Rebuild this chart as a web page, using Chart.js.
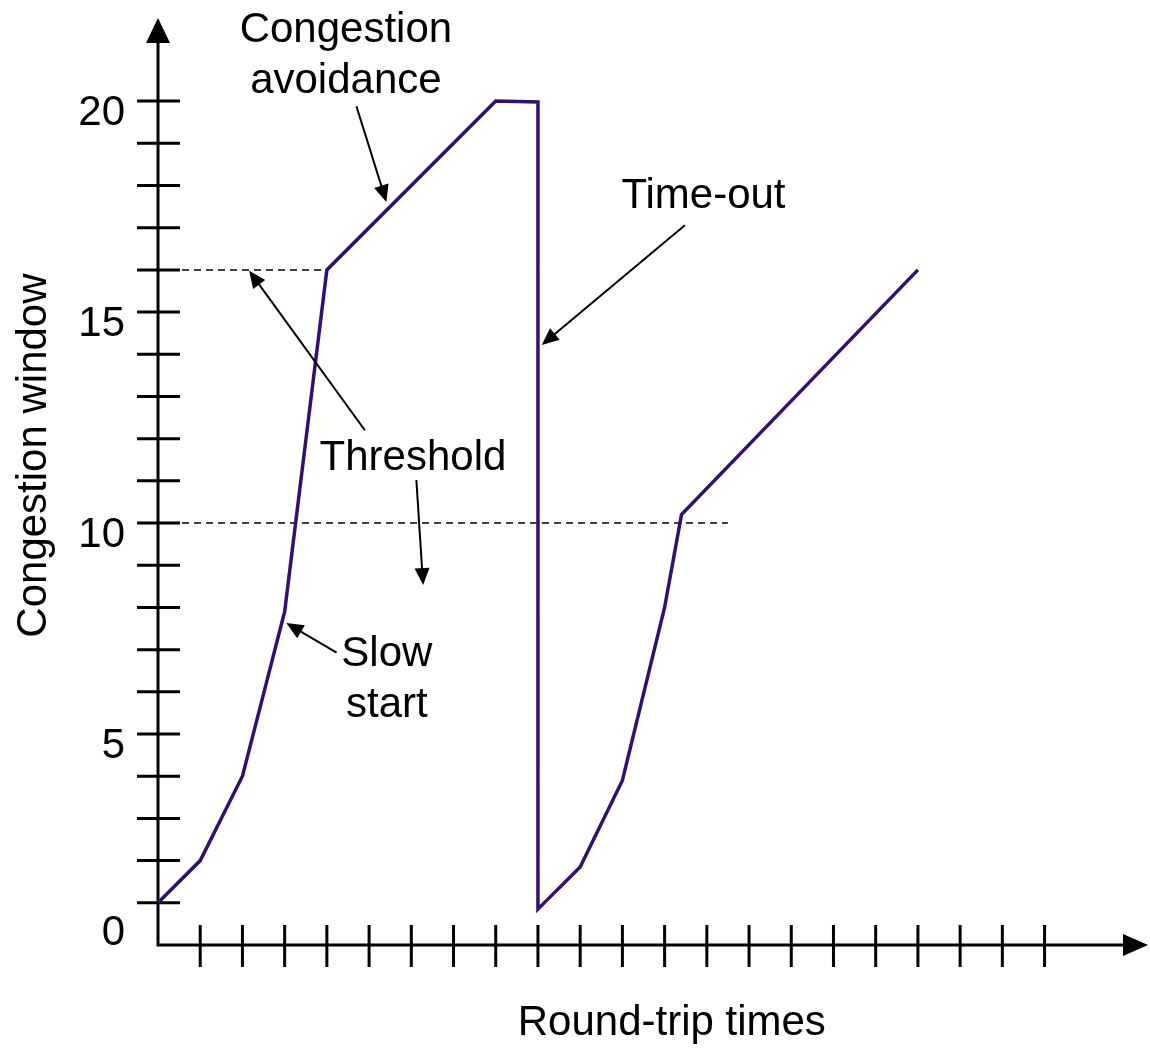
<!DOCTYPE html>
<html lang="en">
<head>
    <meta charset="UTF-8">
    <title>Congestion window</title>
    <script src="https://cdn.jsdelivr.net/npm/chart.js"></script>
    <style>
        body { margin: 0; background: #fff; }
        #wrap { width: 1150px; height: 1048px; }
    </style>
</head>
<body>
    <div id="wrap"><canvas id="cwChart"></canvas></div>

    <script>
        // data
        const roundTrips = [0, 1, 2, 3, 4, 8, 9, 9, 10, 11, 12, 12.4, 18];
        const cwnd = [1, 2, 4, 7.9, 16, 20, 19.98, 0.85, 1.85, 3.9, 8, 10.2, 16];
        const threshold1X = [0, 4];
        const threshold1Y = [16, 16];
        const threshold2X = [0, 13.5];
        const threshold2Y = [10, 10];
        const xTickValues = [1, 2, 3, 4, 5, 6, 7, 8, 9, 10, 11, 12, 13, 14, 15, 16, 17, 18, 19, 20, 21];
        const yTickValues = [1, 2, 3, 4, 5, 6, 7, 8, 9, 10, 11, 12, 13, 14, 15, 16, 17, 18, 19, 20];
        const yTickLabels = [0, 5, 10, 15, 20];

        const FONT = '42px "Liberation Sans", Arial, sans-serif';
        const LINE = '#33106e';

        // annotations in data coordinates
        const notes = [
            { lines: ['Congestion', 'avoidance'], x: 4.45, y: [21.4, 20.19] },
            { lines: ['Time-out'], x: 12.92, y: [17.46] },
            { lines: ['Threshold'], x: 6.04, y: [11.26] },
            { lines: ['Slow', 'start'], x: 5.42, y: [6.61, 5.41] }
        ];
        const arrows = [
            { from: [4.70, 19.88], to: [5.41, 17.61] },
            { from: [12.48, 17.06], to: [9.09, 14.22] },
            { from: [4.90, 12.20], to: [2.16, 15.98] },
            { from: [6.12, 11.02], to: [6.28, 8.53] },
            { from: [4.23, 6.93], to: [3.04, 7.63] }
        ];

        function toXY(xs, ys) {
            return xs.map((x, i) => ({ x: x, y: ys[i] }));
        }

        function arrowHead(ctx, x1, y1, x2, y2, len, half) {
            const a = Math.atan2(y2 - y1, x2 - x1);
            ctx.beginPath();
            ctx.moveTo(x2, y2);
            ctx.lineTo(x2 - len * Math.cos(a) + half * Math.sin(a), y2 - len * Math.sin(a) - half * Math.cos(a));
            ctx.lineTo(x2 - len * Math.cos(a) - half * Math.sin(a), y2 - len * Math.sin(a) + half * Math.cos(a));
            ctx.closePath();
            ctx.fill();
        }

        const axesPlugin = {
            id: 'axesPlugin',
            beforeDatasetsDraw(chart) {
                const ctx = chart.ctx;
                const xs = chart.scales.x, ys = chart.scales.y;
                const x0 = xs.getPixelForValue(0), y0 = ys.getPixelForValue(0);
                const area = chart.chartArea;
                ctx.save();
                ctx.strokeStyle = '#000';
                ctx.fillStyle = '#000';
                ctx.lineWidth = 3;
                // axis lines
                ctx.beginPath();
                ctx.moveTo(x0, y0 + 1.5);
                ctx.lineTo(x0, area.top + 20);
                ctx.moveTo(x0 - 1.5, y0);
                ctx.lineTo(area.right - 20, y0);
                ctx.stroke();
                arrowHead(ctx, x0, y0, x0, area.top, 25, 12);
                arrowHead(ctx, x0, y0, area.right, y0, 25, 11);
                // tick marks
                ctx.beginPath();
                yTickValues.forEach(v => {
                    const p = ys.getPixelForValue(v);
                    ctx.moveTo(x0 - 21, p);
                    ctx.lineTo(x0 + 22, p);
                });
                xTickValues.forEach(v => {
                    const p = xs.getPixelForValue(v);
                    ctx.moveTo(p, y0 - 20);
                    ctx.lineTo(p, y0 + 22);
                });
                ctx.stroke();
                // tick labels
                ctx.font = FONT;
                ctx.textAlign = 'right';
                ctx.textBaseline = 'middle';
                yTickLabels.forEach(v => {
                    const p = ys.getPixelForValue(v);
                    ctx.fillText(String(v), x0 - 33, p + (v === 0 ? -12 : 12));
                });
                // axis titles
                ctx.textAlign = 'center';
                ctx.textBaseline = 'alphabetic';
                ctx.fillText('Round-trip times', xs.getPixelForValue(12.17), y0 + 90);
                ctx.save();
                ctx.translate(x0 - 112, ys.getPixelForValue(11.6));
                ctx.rotate(-Math.PI / 2);
                ctx.fillText('Congestion window', 0, 0);
                ctx.restore();
                ctx.restore();
            },
            afterDatasetsDraw(chart) {
                const ctx = chart.ctx;
                const xs = chart.scales.x, ys = chart.scales.y;
                ctx.save();
                ctx.fillStyle = '#000';
                ctx.strokeStyle = '#000';
                ctx.font = FONT;
                ctx.textAlign = 'center';
                ctx.textBaseline = 'alphabetic';
                notes.forEach(n => {
                    n.lines.forEach((t, i) => {
                        ctx.fillText(t, xs.getPixelForValue(n.x), ys.getPixelForValue(n.y[i]));
                    });
                });
                ctx.lineWidth = 2;
                arrows.forEach(a => {
                    const x1 = xs.getPixelForValue(a.from[0]), y1 = ys.getPixelForValue(a.from[1]);
                    const x2 = xs.getPixelForValue(a.to[0]), y2 = ys.getPixelForValue(a.to[1]);
                    const ang = Math.atan2(y2 - y1, x2 - x1);
                    ctx.beginPath();
                    ctx.moveTo(x1, y1);
                    ctx.lineTo(x2 - 10 * Math.cos(ang), y2 - 10 * Math.sin(ang));
                    ctx.stroke();
                    arrowHead(ctx, x1, y1, x2, y2, 17, 7.5);
                });
                ctx.restore();
            }
        };

        const ctx = document.getElementById('cwChart').getContext('2d');
        new Chart(ctx, {
            type: 'scatter',
            data: {
                datasets: [
                    {
                        data: toXY(threshold1X, threshold1Y),
                        showLine: true,
                        borderColor: '#000',
                        borderWidth: 1.5,
                        borderDash: [7, 5],
                        pointRadius: 0,
                        order: 2
                    },
                    {
                        data: toXY(threshold2X, threshold2Y),
                        showLine: true,
                        borderColor: '#000',
                        borderWidth: 1.5,
                        borderDash: [7, 5],
                        pointRadius: 0,
                        order: 2
                    },
                    {
                        data: toXY(roundTrips, cwnd),
                        showLine: true,
                        borderColor: LINE,
                        borderWidth: 3.5,
                        pointRadius: 0,
                        tension: 0,
                        borderJoinStyle: 'miter',
                        clip: false,
                        order: 1
                    }
                ]
            },
            options: {
                responsive: true,
                maintainAspectRatio: false,
                animation: false,
                layout: { padding: { left: 158, right: 2, top: 18, bottom: 103 } },
                scales: {
                    x: { type: 'linear', display: false, min: 0, max: 23.45 },
                    y: { type: 'linear', display: false, min: 0, max: 21.97 }
                },
                plugins: {
                    legend: { display: false },
                    tooltip: { enabled: false }
                }
            },
            plugins: [axesPlugin]
        });
    </script>
</body>
</html>
